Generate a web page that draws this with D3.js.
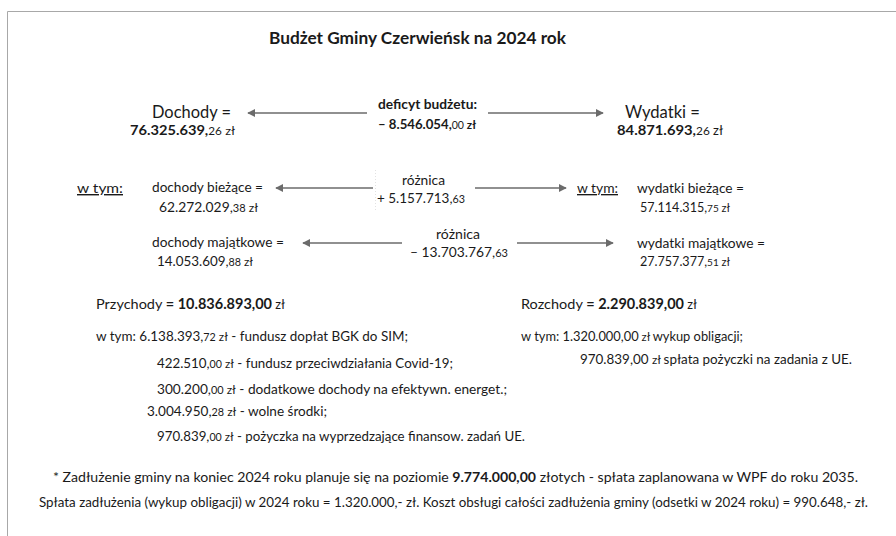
<!DOCTYPE html>
<html>
<head>
<meta charset="utf-8">
<script src="https://cdn.jsdelivr.net/npm/d3@7"></script>
<style>
	html, body { margin: 0; padding: 0; background: #fff; }
	svg { display: block; font-family: Lato, 'Open Sans', sans-serif; fill: #1a1a1a; }
</style>
</head>
<body>
<div id="chart"></div>
<script>
const title = 'Budżet Gminy Czerwieńsk na 2024 rok';

const mainLabels = ['Dochody =', 'Wydatki ='];
const mainValues = ['76.325.639,26', '84.871.693,26'];
const deficitLabel = 'deficyt budżetu:';
const deficitValue = '– 8.546.054,00';

const subLabels = ['dochody bieżące =', 'dochody majątkowe =', 'wydatki bieżące =', 'wydatki majątkowe ='];
const subValues = ['62.272.029,38', '14.053.609,88', '57.114.315,75', '27.757.377,51'];
const diffLabel = 'różnica';
const diffValues = ['+ 5.157.713,63', '– 13.703.767,63'];

const incomeTotal = '10.836.893,00';
const incomeAmounts = ['6.138.393,72', '422.510,00', '300.200,00', '3.004.950,28', '970.839,00'];
const incomeItems = [
	'fundusz dopłat BGK do SIM;',
	'fundusz przeciwdziałania Covid-19;',
	'dodatkowe dochody na efektywn. energet.;',
	'wolne środki;',
	'pożyczka na wyprzedzające finansow. zadań UE.'
];
const outgoTotal = '2.290.839,00';
const outgoAmounts = ['1.320.000,00', '970.839,00'];
const outgoItems = ['wykup obligacji;', 'spłata pożyczki na zadania z UE.'];

const debtTotal = '9.774.000,00';
const debtRepay = '1.320.000,-';
const debtInterest = '990.648,-';

const width = 896, height = 536;

const svg = d3.select('#chart').append('svg')
	.attr('width', width)
	.attr('height', height)
	.attr('viewBox', [0, 0, width, height]);

svg.append('defs').append('marker')
	.attr('id', 'head')
	.attr('viewBox', '0 0 10 10')
	.attr('refX', 9).attr('refY', 5)
	.attr('markerWidth', 5).attr('markerHeight', 5)
	.attr('markerUnits', 'strokeWidth')
	.attr('orient', 'auto')
	.append('path').attr('d', 'M0,0L10,5L0,10Z').attr('fill', '#6b6b6b');

// ramka (widoczna góra i lewa krawędź)
svg.append('path')
	.attr('d', `M${width},11.5H7.5V${height}`)
	.attr('fill', 'none')
	.attr('stroke', '#a8a8a8')
	.attr('stroke-width', 1);

// rzędy schematu
const rowY = d3.scaleOrdinal()
	.domain(['main', 'cur', 'cap'])
	.range([113, 188, 243]);

/*
 * Wypisuje linię złożoną z kawałków o różnej grubości i rozmiarze (em).
 * len: docelowa szerokość; czcionka dopasowana częściowo rozmiarem,
 * reszta przez textLength.
 */
function line(x, y, parts, opts = {}) {
	const size = opts.size || 13;
	const t = svg.append('text')
		.attr('x', x).attr('y', y)
		.attr('font-size', size);
	parts.forEach(p => {
		const s = t.append('tspan').text(p.t);
		if (p.bold) s.attr('font-weight', 'bold');
		if (p.em) s.attr('font-size', p.em + 'em');
		if (p.u) s.attr('text-decoration', 'underline');
	});
	if (opts.len) {
		const w = t.node().getComputedTextLength();
		t.attr('font-size', size * Math.sqrt(opts.len / w))
			.attr('textLength', opts.len)
			.attr('lengthAdjust', 'spacingAndGlyphs');
	}
	return t;
}

// kwota z mniejszymi groszami
function money(v, o = {}) {
	const [whole, dec] = v.split(',');
	const parts = [
		{ t: whole + ',', bold: o.bold },
		{ t: dec, bold: o.decBold, em: o.decEm || 0.8 }
	];
	if (o.unit !== false) parts.push({ t: ' zł', bold: o.unitBold, em: 0.88 });
	return parts;
}

function arrow(x1, x2, y) {
	svg.append('line')
		.attr('x1', x1).attr('x2', x2)
		.attr('y1', y).attr('y2', y)
		.attr('stroke', '#6b6b6b')
		.attr('stroke-width', 1.6)
		.attr('marker-end', 'url(#head)');
}

// tytuł
line(269, 44, [{ t: title, bold: true }], { size: 16, len: 297 });

// dochody / deficyt / wydatki
line(152, rowY('main') + 5, [{ t: mainLabels[0] }], { size: 17, len: 79 });
line(130, rowY('main') + 22, money(mainValues[0], { bold: true }), { size: 13.5, len: 105 });
line(625, rowY('main') + 5, [{ t: mainLabels[1] }], { size: 17, len: 75 });
line(617, rowY('main') + 22, money(mainValues[1], { bold: true }), { size: 13.5, len: 106 });

line(378, rowY('main') - 4, [{ t: deficitLabel, bold: true }], { size: 13, len: 99 });
line(378, rowY('main') + 16, money(deficitValue, { bold: true, unitBold: true }), { size: 13, len: 98 });

arrow(367, 248, rowY('main'));
arrow(488, 603, rowY('main'));

// bieżące
line(77, rowY('cur') + 5, [{ t: 'w tym:', u: true }], { size: 13, len: 46 });
line(152, rowY('cur') + 4, [{ t: subLabels[0] }], { size: 13, len: 111 });
line(159, rowY('cur') + 24, money(subValues[0]), { size: 13, len: 99 });
line(577, rowY('cur') + 5, [{ t: 'w tym:', u: true }], { size: 13, len: 41 });
line(637, rowY('cur') + 5, [{ t: subLabels[2] }], { size: 13, len: 107 });
line(640, rowY('cur') + 24, money(subValues[2]), { size: 13, len: 90 });

line(402, rowY('cur') - 3, [{ t: diffLabel }], { size: 13, len: 43 });
line(377, rowY('cur') + 15, money(diffValues[0], { unit: false }), { size: 13, len: 88 });
arrow(373, 276, rowY('cur'));
arrow(475, 566, rowY('cur'));

svg.append('line')
	.attr('x1', 375.5).attr('x2', 375.5)
	.attr('y1', 170).attr('y2', 212)
	.attr('stroke', '#e2e2e2')
	.attr('stroke-dasharray', '1,2');

// majątkowe
line(152, rowY('cap') + 4, [{ t: subLabels[1] }], { size: 13, len: 132 });
line(157, rowY('cap') + 23, money(subValues[1]), { size: 13, len: 96 });
line(637, rowY('cap') + 5, [{ t: subLabels[3] }], { size: 13, len: 128 });
line(640, rowY('cap') + 23, money(subValues[3]), { size: 13, len: 90 });

line(436, rowY('cap') - 4, [{ t: diffLabel }], { size: 13, len: 44 });
line(410, rowY('cap') + 14, money(diffValues[1], { unit: false }), { size: 13, len: 98 });
arrow(402, 303, rowY('cap'));
arrow(517, 613, rowY('cap'));

// przychody
line(96, 309, [{ t: 'Przychody ' }, { t: '= ' + incomeTotal, bold: true }, { t: ' zł', em: 0.88 }], { size: 14, len: 189 });
const incomeX = [96, 157, 157, 147, 157];
const incomeY = [341, 368, 394, 416, 441];
const incomeLen = [312, 296, 350, 180, 368];
incomeAmounts.forEach((a, i) => {
	const pre = i === 0 ? [{ t: 'w tym:  ' }] : [];
	line(incomeX[i], incomeY[i], pre.concat(money(a), [{ t: ' - ' + incomeItems[i] }]),
		{ size: 13, len: incomeLen[i] });
});

// rozchody
line(521, 309, [{ t: 'Rozchody ' }, { t: '= ' + outgoTotal, bold: true }, { t: ' zł', em: 0.88 }], { size: 14, len: 176 });
line(521, 341, [{ t: 'w tym:  ' + outgoAmounts[0] }, { t: ' zł ', em: 0.88 }, { t: outgoItems[0] }],
	{ size: 13, len: 222 });
line(580, 364, [{ t: outgoAmounts[1] + '  ' }, { t: 'zł ', em: 0.88 }, { t: outgoItems[1] }],
	{ size: 13, len: 272 });

// przypisy
line(53, 482, [
	{ t: '* Zadłużenie gminy na koniec 2024  roku planuje się na poziomie ' },
	{ t: debtTotal, bold: true },
	{ t: '  złotych - spłata zaplanowana w WPF do roku 2035.' }
], { size: 12.5, len: 805 });
line(39, 507, [
	{ t: `Spłata zadłużenia (wykup obligacji) w 2024 roku = ${debtRepay}  zł. Koszt obsługi całości zadłużenia gminy (odsetki w 2024 roku) = ${debtInterest}  zł.` }
], { size: 12.5, len: 829 });
</script>
</body>
</html>
